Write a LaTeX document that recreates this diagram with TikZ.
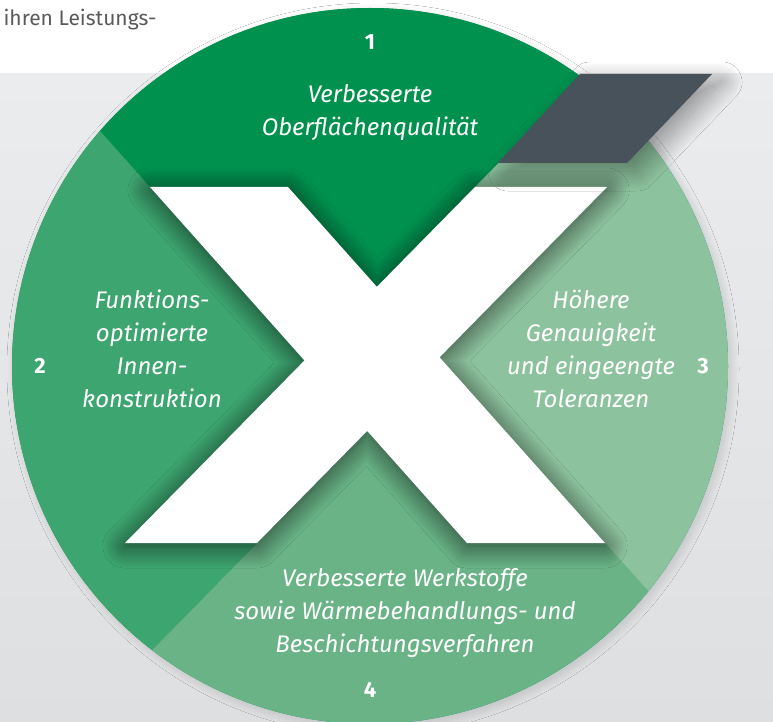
\documentclass[tikz,border=0pt]{standalone}
\usepackage{fontspec}
\setmainfont{Fira Sans}
\usetikzlibrary{shadows.blur}
\definecolor{secttop}{HTML}{00914F}
\definecolor{sectleft}{HTML}{3DA570}
\definecolor{sectright}{HTML}{8DC29E}
\definecolor{sectbottom}{HTML}{69B387}
\definecolor{slate}{HTML}{48525A}
\definecolor{bgtop}{HTML}{EBECEE}
\definecolor{bgbottom}{HTML}{DEDFE1}
\definecolor{introgray}{HTML}{5A5A5A}
\begin{document}
\begin{tikzpicture}[x=1pt,y=-1pt,
  lbl/.style={text=white,font=\fontsize{24}{33}\selectfont\itshape,align=center},
  num/.style={text=white,font=\fontsize{22}{24}\selectfont\bfseries}]
	\useasboundingbox (0,0) rectangle (773,722);
	% background: white strip on top, grey below
	\fill[white] (0,0) rectangle (773,722);
	\shade[top color=bgtop,bottom color=bgbottom] (0,74) rectangle (773,722);
	\node[anchor=base west,text=introgray,font=\fontsize{21}{24}\selectfont] (intro) at (0,26) {ihren Leistungs-};
	% the disc
	\fill[secttop,blur shadow={shadow xshift=3pt,shadow yshift=-3pt,shadow blur radius=8pt,shadow blur steps=30,shadow opacity=15}] (370,366) circle[radius=358pt];
	\begin{scope}
	\clip (370,366) circle[radius=358pt];
	% edges of the two strokes, run out past the disc
	\coordinate (a1t) at (-105.6,-100); \coordinate (a1b) at (784.9,900);
	\coordinate (a2t) at (32.4,-100);   \coordinate (a2b) at (922.9,900);
	\coordinate (b1t) at (757.2,-100);  \coordinate (b1b) at (-225.9,900);
	\coordinate (b2t) at (889.2,-100);  \coordinate (b2b) at (-93.9,900);
	\fill[secttop] (a1t) -- (intersection of a1t--a1b and b1t--b1b) -- (b1t) -- cycle;
	\fill[sectright] (b1t) -- (intersection of b1t--b1b and a2t--a2b) -- (a2b) -- (1200,900) -- (1200,-100) -- cycle;
	\fill[sectbottom] (intersection of a2t--a2b and b2t--b2b) -- (a2b) -- (b2b) -- cycle;
	\fill[sectleft] (-300,-100) -- (a1t) -- (intersection of a1t--a1b and b2t--b2b) -- (b2b) -- (-300,900) -- cycle;
	% the X
	\fill[white,blur shadow={shadow xshift=0pt,shadow yshift=-3pt,shadow blur radius=22pt,shadow blur steps=40,shadow opacity=65}]
		(150,187) -- (288,187) -- (605,543) -- (467,543) -- cycle
		(475,187) -- (607,187) -- (257,543) -- (125,543) -- cycle;
	\end{scope}
	\fill[slate,blur shadow={shadow xshift=10pt,shadow yshift=-8pt,shadow blur radius=20pt,shadow blur steps=40,shadow opacity=40}] (580,74) -- (712,74) -- (627,163) -- (498,163) -- cycle;
	% labels
	\node[num] (n1) at (370,42) {1};
	\node[num] (n2) at (40,366) {2};
	\node[num] (n3) at (703,366) {3};
	\node[num] (n4) at (370,690) {4};
	\node[lbl] (surface) at (370,113) {Verbesserte\\Oberflächenqualität};
	\node[lbl] (design) at (152,349) {Funktions-\\optimierte\\Innen-\\konstruktion};
	\node[lbl] (accuracy) at (591,349) {Höhere\\Genauigkeit\\und eingeengte\\Toleranzen};
	\node[lbl] (material) at (405,613) {Verbesserte Werkstoffe\\sowie Wärmebehandlungs- und\\Beschichtungsverfahren};
\end{tikzpicture}
\end{document}
